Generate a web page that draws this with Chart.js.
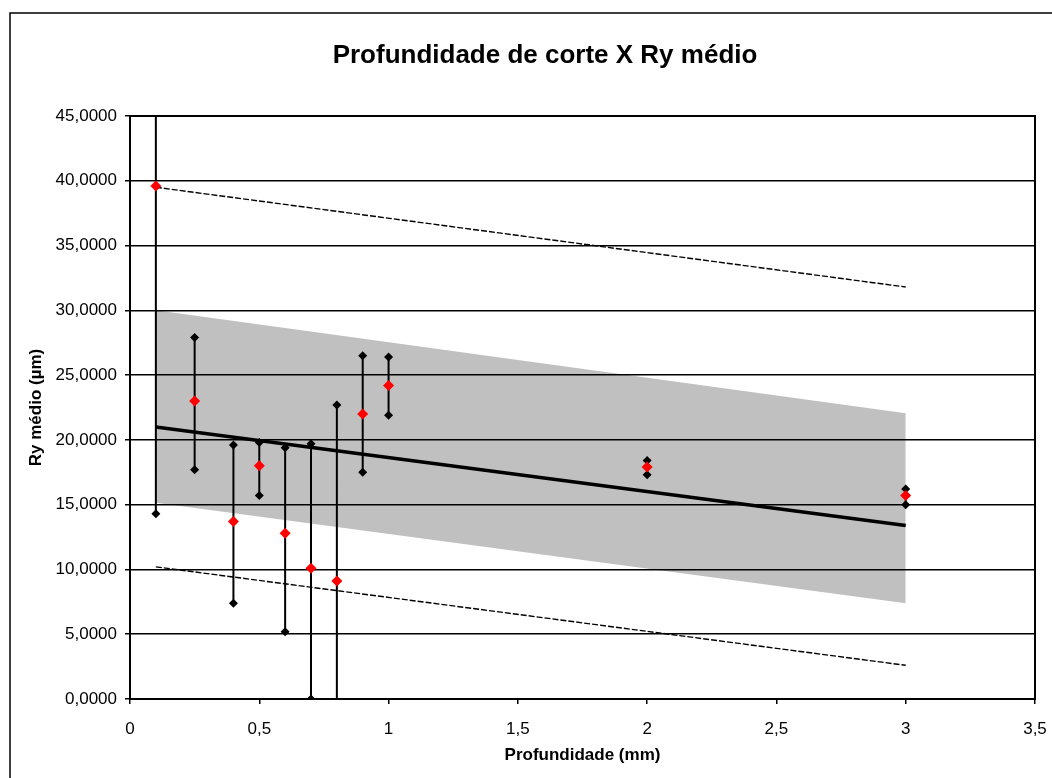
<!DOCTYPE html>
<html>
<head>
<meta charset="utf-8">
<script src="https://cdn.jsdelivr.net/npm/chart.js@4"></script>
<style>
  body { margin: 0; background: #fff; }
  canvas { display: block; }
</style>
</head>
<body>
<canvas id="chart" width="1052" height="778"></canvas>
<script>
// depth (mm) and Ry values
const depth = [0.1, 0.25, 0.4, 0.5, 0.6, 0.7, 0.8, 0.9, 1.0, 2.0, 3.0]
const ryMean = [39.6, 23.0, 13.7, 18.0, 12.8, 10.1, 9.1, 22.0, 24.2, 17.9, 15.7]
const ryHigh = [64.9, 27.9, 19.6, 19.8, 19.4, 19.7, 22.7, 26.5, 26.4, 18.4, 16.2]
const ryLow = [14.3, 17.7, 7.4, 15.7, 5.2, 0.0, -4.5, 17.5, 21.9, 17.3, 15.0]

// regression line, confidence band and prediction limits (ends)
const fitX = [0.1, 3.0]
const fitY = [21.0, 13.4]
const confUpper = [30.0, 22.05]
const confLower = [15.15, 7.4]
const predUpper = [39.5, 31.8]
const predLower = [10.2, 2.6]

const xTicks = [0, 0.5, 1, 1.5, 2, 2.5, 3, 3.5]
const yTicks = [0, 5, 10, 15, 20, 25, 30, 35, 40, 45]

const chartTitle = 'Profundidade de corte X Ry médio'

const pts = (xs, ys) => xs.map((x, i) => ({x: x, y: ys[i]}))

let bars = []
depth.forEach(function(x, i){
    bars.push({x: x, y: ryLow[i]})
    bars.push({x: x, y: ryHigh[i]})
    bars.push({x: x, y: null})
})

const fontFam = 'Arial, "Liberation Sans", sans-serif'

// outer frame, plot border and title
const frame = {
    id: 'frame',
    afterDraw(chart){
        const c = chart.ctx, a = chart.chartArea
        c.save()
        c.strokeStyle = '#000'
        c.lineWidth = 2
        c.strokeRect(a.left, a.top, a.right - a.left, a.bottom - a.top)
        c.lineWidth = 1.5
        c.beginPath()
        c.moveTo(10, 790)
        c.lineTo(10, 13)
        c.lineTo(1060, 13)
        c.stroke()
        c.fillStyle = '#000'
        c.font = 'bold 26px ' + fontFam
        c.textAlign = 'center'
        c.textBaseline = 'middle'
        c.fillText(chartTitle, 545, 56)
        c.restore()
    }
}

const ctx = document.getElementById('chart').getContext('2d')
const myChart = new Chart(ctx, {
    type: 'scatter',
    data: {
        datasets: [
            {
                label: 'Ry médio',
                data: pts(depth, ryMean),
                pointStyle: 'rectRot',
                pointRadius: 5.5,
                backgroundColor: '#ff0000',
                borderColor: '#ff0000',
                borderWidth: 0,
                order: 0
            },
            {
                label: 'Desvio',
                type: 'line',
                data: bars,
                showLine: true,
                spanGaps: false,
                borderColor: '#000',
                borderWidth: 2,
                pointStyle: 'rectRot',
                pointRadius: 4.5,
                backgroundColor: '#000',
                pointBorderWidth: 0,
                order: 1
            },
            {
                label: 'Regressão',
                type: 'line',
                data: pts(fitX, fitY),
                borderColor: '#000',
                borderWidth: 3.5,
                pointRadius: 0,
                order: 2
            },
            {
                label: 'Predição sup.',
                type: 'line',
                data: pts(fitX, predUpper),
                borderColor: '#000',
                borderWidth: 1.4,
                borderDash: [6, 2],
                pointRadius: 0,
                order: 3
            },
            {
                label: 'Predição inf.',
                type: 'line',
                data: pts(fitX, predLower),
                borderColor: '#000',
                borderWidth: 1.4,
                borderDash: [6, 2],
                pointRadius: 0,
                order: 3
            },
            {
                label: 'Confiança sup.',
                type: 'line',
                data: pts(fitX, confUpper),
                borderColor: 'rgba(0,0,0,0)',
                borderWidth: 1,
                backgroundColor: '#c0c0c0',
                fill: '+1',
                pointRadius: 0,
                order: 4
            },
            {
                label: 'Confiança inf.',
                type: 'line',
                data: pts(fitX, confLower),
                borderColor: 'rgba(0,0,0,0)',
                borderWidth: 1,
                pointRadius: 0,
                order: 4
            }
        ]
    },
    options: {
        responsive: false,
        animation: false,
        layout: { padding: { left: 0, right: 17, top: 116, bottom: 0 } },
        plugins: {
            legend: { display: false },
            tooltip: { enabled: false },
            filler: { drawTime: 'beforeDraw' },
            title: { display: false }
        },
        scales: {
            x: {
                type: 'linear',
                min: xTicks[0],
                max: xTicks[xTicks.length - 1],
                afterFit(scale){
                    scale.height = 79
                    scale.paddingLeft = 0
                    scale.paddingRight = 0
                },
                afterBuildTicks(scale){ scale.ticks = xTicks.map(v => ({value: v})) },
                grid: { drawOnChartArea: false, drawTicks: true, tickLength: 5, color: '#000', lineWidth: 1.5 },
                border: { display: true, color: '#000', width: 2 },
                ticks: {
                    padding: 15,
                    color: '#000',
                    font: { family: fontFam, size: 17 },
                    maxRotation: 0,
                    callback: v => String(v).replace('.', ',')
                },
                title: {
                    display: true,
                    text: 'Profundidade (mm)',
                    color: '#000',
                    font: { family: fontFam, size: 17, weight: 'bold' },
                    padding: { top: 0, bottom: 12 }
                }
            },
            y: {
                type: 'linear',
                min: yTicks[0],
                max: yTicks[yTicks.length - 1],
                afterFit(scale){ scale.width = 130 },
                afterBuildTicks(scale){ scale.ticks = yTicks.map(v => ({value: v})) },
                grid: { drawTicks: true, tickLength: 5, color: '#000', lineWidth: 1.5 },
                border: { display: true, color: '#000', width: 2 },
                ticks: {
                    padding: 8,
                    color: '#000',
                    font: { family: fontFam, size: 17 },
                    callback: v => v.toFixed(4).replace('.', ',')
                },
                title: {
                    display: true,
                    text: 'Ry médio (µm)',
                    color: '#000',
                    font: { family: fontFam, size: 17, weight: 'bold' },
                    padding: { top: 26, bottom: 0 }
                }
            }
        }
    },
    plugins: [frame]
})
</script>
</body>
</html>
